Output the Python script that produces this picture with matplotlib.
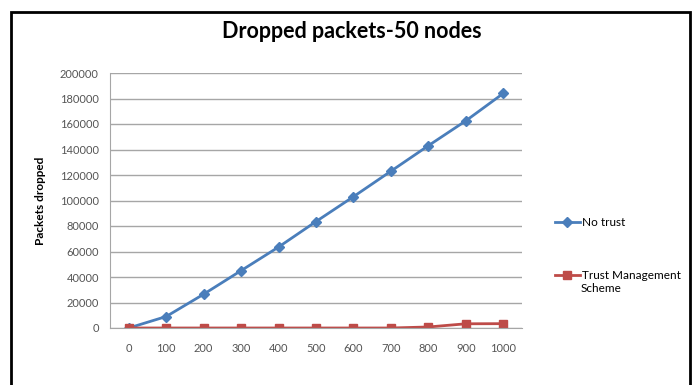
import numpy as np
import matplotlib.pyplot as plt
from matplotlib.patches import Rectangle

nodes = ['0', '100', '200', '300', '400', '500', '600', '700', '800', '900', '1000']
no_trust = [0, 9000, 26500, 45000, 63500, 83500, 103000, 123000, 143000, 162500, 184000]
trust_mgmt = [0, 0, 0, 0, 0, 0, 0, 0, 800, 3300, 3400]
yticks = np.arange(0, 200001, 20000)

plt.rcParams['font.family'] = ['Lato', 'DejaVu Sans']

fig = plt.figure(figsize=(6.96, 3.85), dpi=100)
# outer black frame of the chart
fig.patches.append(Rectangle((11/696, -0.05), 679/696, 1.05 - 12/385, transform=fig.transFigure,
                             fill=False, edgecolor='black', linewidth=2))

ax = fig.add_axes([110/696, 1 - 328/385, 412/696, 255/385])
x = np.arange(len(nodes))
l1, = ax.plot(x, no_trust, color='#4A7EBB', lw=2, marker='D', ms=5, label='No trust')
l2, = ax.plot(x, trust_mgmt, color='#BE4B48', lw=2, marker='s', ms=6, label='Trust Management')

ax.set_xlim(-0.5, len(nodes) - 0.5)
ax.set_ylim(0, 200000)
ax.set_xticks(x)
ax.set_xticklabels(nodes)
ax.set_yticks(yticks)
ax.set_yticklabels([str(v) for v in yticks])
ax.tick_params(labelsize=8, colors='#555555', length=0)
ax.tick_params(axis='x', pad=11)
ax.tick_params(axis='y', pad=8)
ax.yaxis.grid(True, color='#A6A6A6', lw=1)
ax.set_axisbelow(True)
for s in ['top', 'right']:
    ax.spines[s].set_visible(False)
for s in ['left', 'bottom']:
    ax.spines[s].set_color('#A6A6A6')
ax.set_ylabel('Packets dropped', fontsize=8.5, fontweight='bold', labelpad=10)

fig.text(352/696, 1 - 31/385, 'Dropped packets-50 nodes', fontsize=15.5, fontweight='bold',
         ha='center', va='center')

fig.legend(handles=[l1, l2], loc='upper left', bbox_to_anchor=(549/696, 1 - 211/385),
           frameon=False, fontsize=8.5, labelspacing=3.6, handlelength=2.1, handletextpad=0.2,
           borderpad=0)
fig.text(581/696, 1 - 289/385, 'Scheme', fontsize=8.5, ha='left', va='center')

fig.savefig('out.png', dpi=100)
